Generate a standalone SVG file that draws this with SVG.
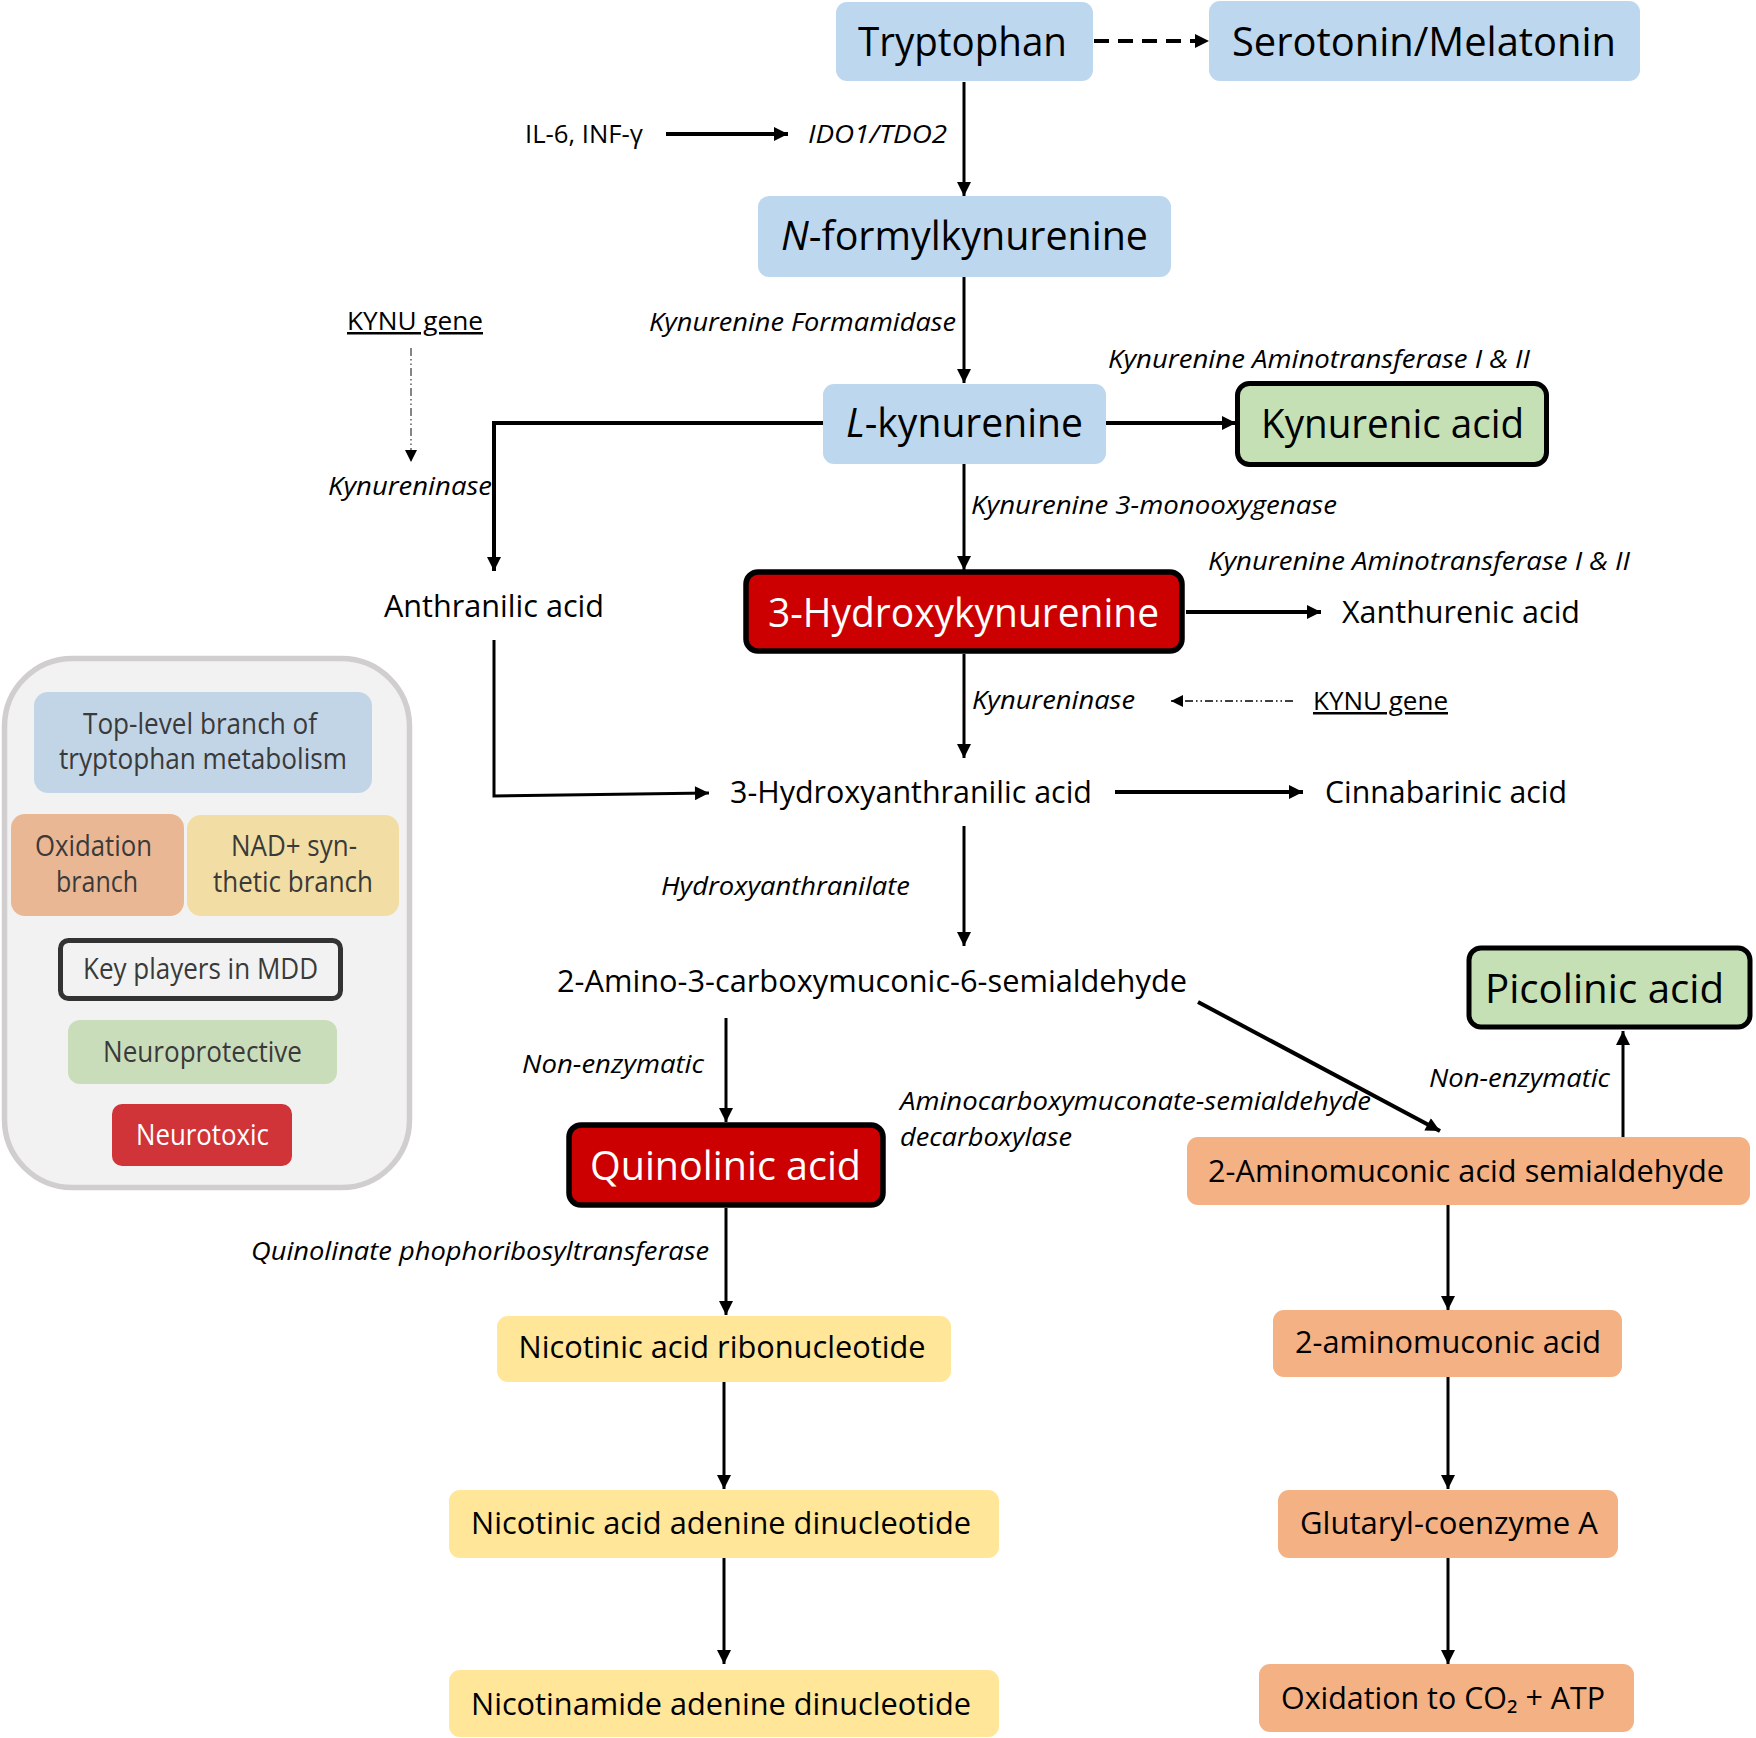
<svg xmlns="http://www.w3.org/2000/svg" width="1756" height="1738" viewBox="0 0 1756 1738">
<defs>
<marker id="ah" viewBox="0 0 10 10" refX="10" refY="5" markerWidth="15" markerHeight="14" markerUnits="userSpaceOnUse" orient="auto"><path d="M0,0 L10,5 L0,10 z" fill="#000"/></marker>
<marker id="ahs" viewBox="0 0 10 10" refX="10" refY="5" markerWidth="13" markerHeight="12" markerUnits="userSpaceOnUse" orient="auto"><path d="M0,0 L10,5 L0,10 z" fill="#000"/></marker>
</defs>
<style>
text{font-family:"Open Sans","Noto Sans","Liberation Sans",sans-serif;fill:#000}
.big{font-size:40px;text-anchor:middle}
.med{font-size:31px;text-anchor:middle}
.lab{font-size:25px;font-style:italic}
.plain{font-size:25px}
.leg{font-size:28.5px;text-anchor:middle;fill:#3a3a3a}
.blue{fill:#BDD7EE}
.green{fill:#C5E0B4;stroke:#000;stroke-width:5}
.red{fill:#CC0000;stroke:#000;stroke-width:5.5}
.orange{fill:#F4B183}
.yellow{fill:#FFE699}
.c{fill:none;stroke:#000;stroke-width:3}
.cw{fill:none;stroke:#000;stroke-width:4}
</style>

<g id="legend">
<rect x="4.5" y="658.5" width="405" height="529" rx="68" fill="#F2F2F2" stroke="#D0CECE" stroke-width="5.5"/>
<rect x="34" y="692" width="338" height="101" rx="14" fill="#C2D5E7"/>
<text class="leg" x="200" y="734" textLength="234" lengthAdjust="spacingAndGlyphs">Top-level branch of</text>
<text class="leg" x="203" y="769" textLength="288" lengthAdjust="spacingAndGlyphs">tryptophan metabolism</text>
<rect x="11" y="814" width="173" height="102" rx="14" fill="#EAB794"/>
<text class="leg" x="93.5" y="856" textLength="117" lengthAdjust="spacingAndGlyphs">Oxidation</text>
<text class="leg" x="97" y="892" textLength="82" lengthAdjust="spacingAndGlyphs">branch</text>
<rect x="187" y="815" width="212" height="101" rx="14" fill="#F2DEA4"/>
<text class="leg" x="294" y="856" textLength="126" lengthAdjust="spacingAndGlyphs">NAD+ syn-</text>
<text class="leg" x="293" y="892" textLength="160" lengthAdjust="spacingAndGlyphs">thetic branch</text>
<rect x="60.5" y="940.5" width="280" height="58" rx="8" fill="#F2F2F2" stroke="#333" stroke-width="5"/>
<text class="leg" x="200.5" y="979" textLength="235" lengthAdjust="spacingAndGlyphs">Key players in MDD</text>
<rect x="68" y="1020" width="269" height="64" rx="12" fill="#CADDBA"/>
<text class="leg" x="202.5" y="1062" textLength="199" lengthAdjust="spacingAndGlyphs">Neuroprotective</text>
<rect x="112" y="1104" width="180" height="62" rx="10" fill="#D13438"/>
<text class="leg" x="202.5" y="1145" textLength="133" lengthAdjust="spacingAndGlyphs" style="fill:#fff">Neurotoxic</text>
</g>

<g id="connectors">
<path class="c" d="M964,82 V196" marker-end="url(#ah)"/>
<path fill="none" stroke="#000" stroke-width="4" stroke-dasharray="15 9" d="M1094,41 H1209" marker-end="url(#ah)"/>
<path class="cw" d="M666,134 H788" marker-end="url(#ah)"/>
<path class="c" d="M964,277 V383" marker-end="url(#ah)"/>
<path fill="none" stroke="#444" stroke-width="1.3" stroke-dasharray="8 3 1.5 3 1.5 3" d="M411,348 V462" marker-end="url(#ahs)"/>
<path class="cw" d="M823,423 H494 V571" marker-end="url(#ah)"/>
<path class="cw" d="M1106,423 H1236" marker-end="url(#ah)"/>
<path class="c" d="M964,464 V570" marker-end="url(#ah)"/>
<path class="cw" d="M1186,612 H1321" marker-end="url(#ah)"/>
<path class="c" d="M964,654 V758" marker-end="url(#ah)"/>
<path fill="none" stroke="#000" stroke-width="1.5" stroke-dasharray="8 3 1.5 3 1.5 3" d="M1293,701 H1171" marker-end="url(#ahs)"/>
<path class="c" d="M494,640 V796 L709,793" marker-end="url(#ah)"/>
<path class="cw" d="M1115,792 H1303" marker-end="url(#ah)"/>
<path class="c" d="M964,826 V946" marker-end="url(#ah)"/>
<path class="c" d="M726,1018 V1122" marker-end="url(#ah)"/>
<path class="cw" d="M1198,1002 L1440,1131" marker-end="url(#ah)"/>
<path class="c" d="M1623,1137 V1031" marker-end="url(#ah)"/>
<path class="c" d="M726,1208 V1315" marker-end="url(#ah)"/>
<path class="c" d="M1448,1205 V1310" marker-end="url(#ah)"/>
<path class="c" d="M724,1382 V1489" marker-end="url(#ah)"/>
<path class="c" d="M724,1558 V1664" marker-end="url(#ah)"/>
<path class="c" d="M1448,1377 V1489" marker-end="url(#ah)"/>
<path class="c" d="M1448,1558 V1664" marker-end="url(#ah)"/>
</g>

<g id="labels">
<text class="plain" x="525" y="143" textLength="118" lengthAdjust="spacingAndGlyphs">IL-6, INF-γ</text>
<text class="lab" x="808" y="143" textLength="139" lengthAdjust="spacingAndGlyphs">IDO1/TDO2</text>
<text class="lab" x="649" y="331" textLength="307" lengthAdjust="spacingAndGlyphs">Kynurenine Formamidase</text>
<text class="plain" x="347" y="330" textLength="136" lengthAdjust="spacingAndGlyphs" text-decoration="underline">KYNU gene</text>
<text class="lab" x="328" y="495" textLength="164" lengthAdjust="spacingAndGlyphs">Kynureninase</text>
<text class="lab" x="1108" y="368" textLength="422" lengthAdjust="spacingAndGlyphs">Kynurenine Aminotransferase I &amp; II</text>
<text class="lab" x="971" y="514" textLength="366" lengthAdjust="spacingAndGlyphs">Kynurenine 3-monooxygenase</text>
<text class="lab" x="1208" y="570" textLength="422" lengthAdjust="spacingAndGlyphs">Kynurenine Aminotransferase I &amp; II</text>
<text class="lab" x="972" y="709" textLength="163" lengthAdjust="spacingAndGlyphs">Kynureninase</text>
<text class="plain" x="1313" y="710" textLength="135" lengthAdjust="spacingAndGlyphs" text-decoration="underline">KYNU gene</text>
<text class="lab" x="661" y="895" textLength="249" lengthAdjust="spacingAndGlyphs">Hydroxyanthranilate</text>
<text class="lab" x="522" y="1073" textLength="182" lengthAdjust="spacingAndGlyphs">Non-enzymatic</text>
<text class="lab" x="900" y="1110" textLength="471" lengthAdjust="spacingAndGlyphs">Aminocarboxymuconate-semialdehyde</text>
<text class="lab" x="900" y="1146" textLength="172" lengthAdjust="spacingAndGlyphs">decarboxylase</text>
<text class="lab" x="1429" y="1087" textLength="181" lengthAdjust="spacingAndGlyphs">Non-enzymatic</text>
<text class="lab" x="251" y="1260" textLength="458" lengthAdjust="spacingAndGlyphs">Quinolinate phophoribosyltransferase</text>
</g>

<g id="tryptophan">
<rect class="blue" x="836" y="2" width="257" height="79" rx="11"/>
<text class="big" x="962.5" y="56" textLength="209" lengthAdjust="spacingAndGlyphs">Tryptophan</text>
</g>
<g id="serotonin">
<rect class="blue" x="1209" y="1" width="431" height="80" rx="11"/>
<text class="big" x="1424" y="56" textLength="384" lengthAdjust="spacingAndGlyphs">Serotonin/Melatonin</text>
</g>
<g id="n-formylkynurenine">
<rect class="blue" x="758" y="196" width="413" height="81" rx="11"/>
<text class="big" x="964.5" y="250" textLength="367" lengthAdjust="spacingAndGlyphs"><tspan font-style="italic">N</tspan>-formylkynurenine</text>
</g>
<g id="l-kynurenine">
<rect class="blue" x="823" y="384" width="283" height="80" rx="11"/>
<text class="big" x="964.5" y="437" textLength="237" lengthAdjust="spacingAndGlyphs"><tspan font-style="italic">L</tspan>-kynurenine</text>
</g>
<g id="kynurenic-acid">
<rect class="green" x="1237.5" y="383.5" width="309" height="81" rx="12"/>
<text class="big" x="1392.5" y="438" textLength="263" lengthAdjust="spacingAndGlyphs">Kynurenic acid</text>
</g>
<g id="hydroxykynurenine">
<rect class="red" x="746" y="572" width="436" height="79" rx="12"/>
<text class="big" x="963.5" y="627" textLength="391" lengthAdjust="spacingAndGlyphs" style="fill:#fff">3-Hydroxykynurenine</text>
</g>
<g id="anthranilic-acid">
<text class="med" x="494" y="617" textLength="220" lengthAdjust="spacingAndGlyphs">Anthranilic acid</text>
</g>
<g id="xanthurenic-acid">
<text class="med" x="1461" y="623" textLength="238" lengthAdjust="spacingAndGlyphs">Xanthurenic acid</text>
</g>
<g id="hydroxyanthranilic-acid">
<text class="med" x="911" y="803" textLength="362" lengthAdjust="spacingAndGlyphs">3-Hydroxyanthranilic acid</text>
</g>
<g id="cinnabarinic-acid">
<text class="med" x="1446" y="803" textLength="242" lengthAdjust="spacingAndGlyphs">Cinnabarinic acid</text>
</g>
<g id="acms">
<text class="med" x="872" y="992" textLength="630" lengthAdjust="spacingAndGlyphs">2-Amino-3-carboxymuconic-6-semialdehyde</text>
</g>
<g id="picolinic-acid">
<rect class="green" x="1469" y="948" width="281" height="79" rx="12"/>
<text class="big" x="1604.5" y="1003" textLength="239" lengthAdjust="spacingAndGlyphs">Picolinic acid</text>
</g>
<g id="quinolinic-acid">
<rect class="red" x="569" y="1125" width="314" height="80" rx="12"/>
<text class="big" x="725.5" y="1180" textLength="271" lengthAdjust="spacingAndGlyphs" style="fill:#fff">Quinolinic acid</text>
</g>
<g id="aminomuconic-semialdehyde">
<rect class="orange" x="1187" y="1137" width="563" height="68" rx="11"/>
<text class="med" x="1466" y="1182" textLength="516" lengthAdjust="spacingAndGlyphs">2-Aminomuconic acid semialdehyde</text>
</g>
<g id="nicotinic-ribonucleotide">
<rect class="yellow" x="497" y="1316" width="454" height="66" rx="11"/>
<text class="med" x="722" y="1358" textLength="407" lengthAdjust="spacingAndGlyphs">Nicotinic acid ribonucleotide</text>
</g>
<g id="naad">
<rect class="yellow" x="449" y="1490" width="550" height="68" rx="11"/>
<text class="med" x="721" y="1534" textLength="500" lengthAdjust="spacingAndGlyphs">Nicotinic acid adenine dinucleotide</text>
</g>
<g id="nad">
<rect class="yellow" x="449" y="1670" width="550" height="67" rx="11"/>
<text class="med" x="721" y="1715" textLength="500" lengthAdjust="spacingAndGlyphs">Nicotinamide adenine dinucleotide</text>
</g>
<g id="aminomuconic-acid">
<rect class="orange" x="1273" y="1310" width="349" height="67" rx="11"/>
<text class="med" x="1448" y="1353" textLength="306" lengthAdjust="spacingAndGlyphs">2-aminomuconic acid</text>
</g>
<g id="glutaryl-coa">
<rect class="orange" x="1278" y="1490" width="340" height="68" rx="11"/>
<text class="med" x="1449" y="1534" textLength="298" lengthAdjust="spacingAndGlyphs">Glutaryl-coenzyme A</text>
</g>
<g id="oxidation">
<rect class="orange" x="1259" y="1664" width="375" height="68" rx="11"/>
<text class="med" x="1443" y="1709" textLength="324" lengthAdjust="spacingAndGlyphs">Oxidation to CO₂ + ATP</text>
</g>
</svg>
